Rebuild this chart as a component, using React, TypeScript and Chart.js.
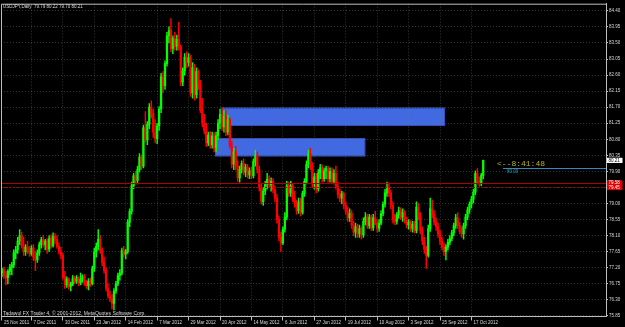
import { useEffect, useRef } from 'react';
import { Chart, registerables } from 'chart.js';

Chart.register(...registerables);

// ---- Daily USDJPY candles ----
const opens = [
  77.05, 77.15, 76.98, 76.92, 77.10, 77.22, 77.28, 77.62, 77.70, 77.95,
  78.10, 77.82, 77.65, 77.78, 77.68, 77.60, 77.75, 77.50, 77.42, 77.62,
  77.85, 77.98, 77.85, 77.95, 77.72, 78.02, 77.82, 78.08, 78.00, 77.80,
  77.65, 77.55, 76.95, 76.72, 76.88, 76.68, 76.75, 76.90, 76.82, 76.92,
  76.78, 76.88, 76.95, 76.75, 76.70, 76.82, 76.76, 77.18, 77.65, 77.80,
  78.00, 77.68, 77.35, 77.12, 76.62, 76.42, 76.32, 76.20, 76.55, 76.75,
  76.98, 77.05, 77.68, 77.58, 77.65, 78.48, 78.78, 79.50, 79.78, 79.65,
  79.95, 80.30, 80.05, 81.12, 80.78, 81.22, 81.70, 81.52, 81.00, 80.82,
  81.18, 81.65, 82.55, 82.30, 82.92, 83.70, 83.85, 83.35, 83.62, 83.40,
  83.60, 83.40, 82.40, 82.72, 83.10, 82.95, 83.08, 82.10, 82.80, 82.05,
  82.70, 82.35, 81.62, 81.25, 81.05, 80.70, 80.92, 80.65, 80.90, 80.55,
  80.90, 81.25, 81.50, 81.15, 81.45, 81.00, 81.35, 80.62, 80.10, 80.45,
  80.05, 79.72, 79.95, 80.12, 79.88, 80.02, 79.80, 79.92, 79.78, 80.18,
  80.35, 79.95, 79.45, 79.05, 79.35, 79.55, 79.68, 79.52, 79.62, 79.38,
  79.15, 78.55, 78.05, 77.90, 78.28, 78.62, 79.50, 79.30, 79.50, 79.15,
  79.00, 78.80, 79.05, 78.75, 79.28, 79.62, 80.10, 80.40, 80.05, 79.55,
  79.75, 79.42, 79.85, 80.00, 79.70, 79.92, 79.98, 79.70, 79.90, 79.62,
  79.85, 79.48, 79.25, 79.15, 79.28, 78.95, 78.78, 78.60, 78.72, 78.40,
  78.20, 78.35, 78.15, 78.30, 78.12, 78.50, 78.62, 78.38, 78.62, 78.32,
  78.60, 78.45, 78.30, 78.45, 78.72, 78.98, 79.30, 79.45, 79.30, 78.95,
  78.55, 78.50, 78.68, 78.80, 78.62, 78.75, 78.52, 78.40, 78.48, 78.30,
  78.42, 78.25, 78.90, 78.62, 78.25, 77.95, 77.72, 77.55, 78.30, 78.85,
  78.70, 78.48, 78.35, 78.15, 77.95, 77.78, 77.65, 77.78, 77.92, 78.02,
  78.18, 78.38, 78.60, 78.38, 78.22, 78.15, 78.38, 78.62, 78.82, 78.98,
  79.12, 79.32, 79.85, 79.62, 79.55, 79.79,
];
const highs = [
  77.20, 77.22, 77.10, 77.15, 77.30, 77.35, 77.70, 77.80, 78.05, 78.27,
  78.20, 78.05, 77.85, 77.95, 77.80, 77.82, 77.85, 77.66, 77.70, 77.92,
  78.05, 78.10, 78.00, 78.02, 78.10, 78.12, 78.18, 78.16, 78.10, 77.90,
  77.78, 77.62, 77.10, 76.95, 76.92, 76.80, 76.98, 76.96, 76.98, 76.95,
  77.05, 77.00, 77.02, 76.85, 76.90, 76.92, 77.25, 77.75, 77.90, 78.27,
  78.10, 77.75, 77.50, 77.20, 76.75, 76.55, 76.45, 76.62, 76.82, 77.05,
  77.15, 77.75, 77.80, 77.72, 78.55, 78.85, 79.60, 79.85, 79.90, 80.05,
  80.40, 80.35, 81.20, 81.58, 81.30, 81.80, 81.88, 81.65, 81.35, 81.25,
  81.72, 82.65, 82.70, 83.00, 83.80, 83.95, 84.18, 83.70, 83.80, 83.72,
  84.08, 83.45, 82.80, 83.20, 83.25, 83.20, 83.15, 82.95, 82.90, 82.80,
  82.75, 82.45, 81.95, 81.50, 81.25, 81.00, 81.02, 81.00, 80.98, 81.00,
  81.35, 81.65, 81.68, 81.60, 81.62, 81.48, 81.40, 80.75, 80.55, 80.60,
  80.20, 80.05, 80.20, 80.25, 80.10, 80.10, 80.00, 80.02, 80.25, 80.50,
  80.45, 80.05, 79.55, 79.45, 79.62, 79.85, 79.78, 79.72, 79.70, 79.50,
  79.25, 78.65, 78.20, 78.35, 78.75, 79.62, 79.60, 79.62, 79.55, 79.35,
  79.10, 79.15, 79.15, 79.35, 79.70, 80.20, 80.50, 80.55, 80.15, 79.85,
  79.85, 79.95, 80.10, 80.08, 80.00, 80.05, 80.05, 80.00, 80.00, 79.95,
  80.05, 79.60, 79.40, 79.35, 79.32, 79.05, 78.90, 78.85, 78.80, 78.50,
  78.45, 78.42, 78.40, 78.35, 78.60, 78.75, 78.70, 78.70, 78.68, 78.70,
  78.78, 78.55, 78.55, 78.80, 79.05, 79.40, 79.60, 79.58, 79.38, 79.05,
  78.70, 78.75, 78.90, 78.88, 78.85, 78.80, 78.62, 78.55, 78.52, 78.50,
  78.50, 79.05, 79.00, 78.75, 78.35, 78.05, 77.80, 78.40, 79.15, 79.10,
  78.80, 78.60, 78.45, 78.25, 78.05, 77.90, 77.85, 78.00, 78.10, 78.25,
  78.45, 78.70, 78.75, 78.48, 78.35, 78.45, 78.70, 78.90, 79.05, 79.20,
  79.40, 79.92, 79.98, 79.75, 79.85, 80.22,
];
const lows = [
  76.95, 76.90, 76.72, 76.75, 77.00, 77.00, 77.20, 77.45, 77.60, 77.85,
  77.75, 77.55, 77.55, 77.60, 77.52, 77.55, 77.40, 77.12, 77.35, 77.55,
  77.75, 77.78, 77.70, 77.60, 77.65, 77.75, 77.78, 77.88, 77.75, 77.58,
  77.45, 76.88, 76.62, 76.65, 76.60, 76.55, 76.70, 76.75, 76.76, 76.70,
  76.72, 76.80, 76.70, 76.62, 76.58, 76.68, 76.72, 77.10, 77.50, 77.70,
  77.60, 77.25, 77.05, 76.55, 76.35, 76.25, 76.05, 76.02, 76.48, 76.70,
  76.85, 77.00, 77.50, 77.45, 77.60, 78.35, 78.70, 79.42, 79.55, 79.55,
  79.88, 79.95, 80.00, 80.72, 80.65, 81.10, 81.40, 80.85, 80.70, 80.68,
  81.05, 81.55, 82.10, 82.20, 82.85, 83.50, 83.25, 83.20, 83.30, 83.30,
  83.30, 82.30, 82.30, 82.60, 82.80, 82.85, 82.00, 81.95, 81.90, 81.95,
  82.20, 81.55, 81.15, 80.95, 80.60, 80.62, 80.55, 80.55, 80.45, 80.45,
  80.80, 81.10, 81.05, 81.00, 80.90, 80.92, 80.55, 80.00, 79.95, 79.95,
  79.62, 79.60, 79.85, 79.80, 79.75, 79.72, 79.70, 79.70, 79.72, 80.05,
  79.85, 79.35, 78.98, 78.95, 79.25, 79.40, 79.45, 79.35, 79.30, 79.05,
  78.45, 77.95, 77.65, 77.85, 78.20, 78.55, 79.20, 79.20, 79.05, 78.90,
  78.70, 78.72, 78.65, 78.70, 79.20, 79.55, 80.00, 79.95, 79.45, 79.40,
  79.30, 79.35, 79.70, 79.60, 79.62, 79.70, 79.60, 79.60, 79.55, 79.55,
  79.40, 79.15, 79.05, 79.00, 78.85, 78.70, 78.50, 78.50, 78.30, 78.10,
  78.05, 78.05, 78.05, 78.00, 78.05, 78.40, 78.30, 78.30, 78.25, 78.25,
  78.40, 78.20, 78.22, 78.40, 78.65, 78.90, 79.20, 79.20, 78.85, 78.45,
  78.40, 78.42, 78.58, 78.55, 78.50, 78.45, 78.32, 78.28, 78.22, 78.20,
  78.18, 78.18, 78.55, 78.15, 77.85, 77.60, 77.18, 77.50, 78.22, 78.60,
  78.40, 78.25, 78.05, 77.85, 77.70, 77.55, 77.42, 77.70, 77.85, 77.95,
  78.10, 78.30, 78.30, 78.15, 78.05, 78.00, 78.30, 78.55, 78.72, 78.88,
  79.02, 79.25, 79.55, 79.48, 79.50, 79.70,
];
const closes = [
  77.15, 76.98, 76.92, 77.10, 77.22, 77.28, 77.62, 77.70, 77.95, 78.10,
  77.82, 77.65, 77.78, 77.68, 77.60, 77.75, 77.50, 77.42, 77.62, 77.85,
  77.98, 77.85, 77.95, 77.72, 78.02, 77.82, 78.08, 78.00, 77.80, 77.65,
  77.55, 76.95, 76.72, 76.88, 76.68, 76.75, 76.90, 76.82, 76.92, 76.78,
  76.88, 76.95, 76.75, 76.70, 76.82, 76.76, 77.18, 77.65, 77.80, 78.00,
  77.68, 77.35, 77.12, 76.62, 76.42, 76.32, 76.20, 76.55, 76.75, 76.98,
  77.05, 77.68, 77.58, 77.65, 78.48, 78.78, 79.50, 79.78, 79.65, 79.95,
  80.30, 80.05, 81.12, 80.78, 81.22, 81.70, 81.52, 81.00, 80.82, 81.18,
  81.65, 82.55, 82.30, 82.92, 83.70, 83.85, 83.35, 83.62, 83.40, 83.60,
  83.40, 82.40, 82.72, 83.10, 82.95, 83.08, 82.10, 82.80, 82.05, 82.70,
  82.35, 81.62, 81.25, 81.05, 80.70, 80.92, 80.65, 80.90, 80.55, 80.90,
  81.25, 81.50, 81.15, 81.45, 81.00, 81.35, 80.62, 80.10, 80.45, 80.05,
  79.72, 79.95, 80.12, 79.88, 80.02, 79.80, 79.92, 79.78, 80.18, 80.35,
  79.95, 79.45, 79.05, 79.35, 79.55, 79.68, 79.52, 79.62, 79.38, 79.15,
  78.55, 78.05, 77.90, 78.28, 78.62, 79.50, 79.30, 79.50, 79.15, 79.00,
  78.80, 79.05, 78.75, 79.28, 79.62, 80.10, 80.40, 80.05, 79.55, 79.75,
  79.42, 79.85, 80.00, 79.70, 79.92, 79.98, 79.70, 79.90, 79.62, 79.85,
  79.48, 79.25, 79.15, 79.28, 78.95, 78.78, 78.60, 78.72, 78.40, 78.20,
  78.35, 78.15, 78.30, 78.12, 78.50, 78.62, 78.38, 78.62, 78.32, 78.60,
  78.45, 78.30, 78.45, 78.72, 78.98, 79.30, 79.45, 79.30, 78.95, 78.55,
  78.50, 78.68, 78.80, 78.62, 78.75, 78.52, 78.40, 78.48, 78.30, 78.42,
  78.25, 78.90, 78.62, 78.25, 77.95, 77.72, 77.55, 78.30, 78.85, 78.70,
  78.48, 78.35, 78.15, 77.95, 77.78, 77.65, 77.78, 77.92, 78.02, 78.18,
  78.38, 78.60, 78.38, 78.22, 78.15, 78.38, 78.62, 78.82, 78.98, 79.12,
  79.32, 79.85, 79.62, 79.55, 79.79, 80.21,
];

// ---- time scale ----
const dateLabels = [
  '25 Nov 2011', '7 Dec 2011', '30 Dec 2011', '23 Jan 2012', '14 Feb 2012',
  '7 Mar 2012', '29 Mar 2012', '20 Apr 2012', '14 May 2012', '6 Jun 2012',
  '27 Jun 2012', '19 Jul 2012', '10 Aug 2012', '3 Sep 2012', '25 Sep 2012',
  '17 Oct 2012',
];
const dateLabelBars = [0, 15, 31, 47, 63, 79, 95, 111, 127, 143, 159, 175, 191, 207, 223, 239];
const TOTAL_SLOTS = 308; // bars + empty chart shift on the right

// ---- price scale ----
const priceTicks = [
  75.85, 76.3, 76.75, 77.2, 77.65, 78.1, 78.55, 79.0, 79.45, 79.9,
  80.35, 80.8, 81.25, 81.7, 82.15, 82.6, 83.05, 83.5, 83.95, 84.4,
];
const priceMin = 75.835;
const priceMax = 84.6;

// ---- objects ----
const zoneStartBar = [112, 108.5];
const zoneEndBar = [225.5, 185];
const zoneTop = [81.69, 80.83];
const zoneBottom = [81.19, 80.32];

const levelPrices = [79.58, 79.45]; // solid, dotted
const trendPrice = 80.0;
const trendStartBar = 255;
const bidPrice = 80.21;
const timerText = '<--8:41:48';
const timerBar = 252;
const titleText = 'USDJPY,Daily  79.79 80.22 79.70 80.21';
const footerText = 'Tadawul FX Trader 4, \u00A9 2001-2012, MetaQuotes Software Corp.';

const BULL = '#00ff00';
const BEAR = '#ff0000';
const FONT = 'Liberation Sans';
const AXIS_TEXT = '#d8d8d8';
const GRID = 'rgba(110,125,115,0.45)';
const FRAME = '#bdbdbd';

const overlayPlugin = {
  id: 'mt4overlay',
  beforeDraw(chart: any) {
    const { ctx, chartArea: ca, scales } = chart;
    ctx.save();
    ctx.fillStyle = '#000';
    ctx.fillRect(0, 0, chart.width, chart.height);
    ctx.beginPath();
    ctx.rect(ca.left, ca.top, ca.right - ca.left, ca.bottom - ca.top);
    ctx.clip();
    for (let k = 0; k < zoneStartBar.length; k++) {
      const x1 = scales.x.getPixelForValue(zoneStartBar[k]);
      const x2 = scales.x.getPixelForValue(zoneEndBar[k]);
      const y1 = scales.y.getPixelForValue(zoneTop[k]);
      const y2 = scales.y.getPixelForValue(zoneBottom[k]);
      ctx.fillStyle = '#4169e1';
      ctx.fillRect(x1, y1, x2 - x1, y2 - y1);
      ctx.strokeStyle = '#2f52c0';
      ctx.lineWidth = 1;
      ctx.strokeRect(Math.round(x1) + 0.5, Math.round(y1) + 0.5, Math.round(x2 - x1) - 1, Math.round(y2 - y1) - 1);
    }
    ctx.restore();
  },
  afterDatasetsDraw(chart: any) {
    const { ctx, chartArea: ca, scales } = chart;
    ctx.save();
    ctx.beginPath();
    ctx.rect(ca.left, ca.top, ca.right - ca.left, ca.bottom - ca.top);
    ctx.clip();
    // horizontal levels
    levelPrices.forEach((p, k) => {
      const y = Math.round(scales.y.getPixelForValue(p)) + 0.5;
      ctx.strokeStyle = '#b00000';
      ctx.lineWidth = 1;
      ctx.setLineDash(k === 0 ? [] : [2, 2]);
      ctx.beginPath();
      ctx.moveTo(ca.left, y);
      ctx.lineTo(ca.right, y);
      ctx.stroke();
    });
    ctx.setLineDash([]);
    // trend line at 80.00
    const ty = Math.round(scales.y.getPixelForValue(trendPrice)) + 0.5;
    const tx = scales.x.getPixelForValue(trendStartBar);
    ctx.strokeStyle = '#3a86c0';
    ctx.beginPath();
    ctx.moveTo(tx, ty);
    ctx.lineTo(ca.right, ty);
    ctx.stroke();
    ctx.fillStyle = '#1aa0b8';
    ctx.font = `4.5px "${FONT}"`;
    ctx.textBaseline = 'top';
    ctx.textAlign = 'left';
    ctx.fillText(trendPrice.toFixed(2), tx + 4, ty + 1.5);
    // countdown text
    ctx.fillStyle = '#b4b42a';
    ctx.font = '8px "Liberation Mono"';
    ctx.textBaseline = 'top';
    ctx.fillText(timerText, scales.x.getPixelForValue(timerBar), scales.y.getPixelForValue(bidPrice));
    ctx.restore();
  },
  afterDraw(chart: any) {
    const { ctx, chartArea: ca, scales } = chart;
    ctx.save();
    // frame left / top
    ctx.strokeStyle = FRAME;
    ctx.lineWidth = 1;
    ctx.beginPath();
    ctx.moveTo(ca.left + 0.5, ca.bottom);
    ctx.lineTo(ca.left + 0.5, ca.top + 0.5);
    ctx.lineTo(ca.right, ca.top + 0.5);
    ctx.stroke();
    // title & footer
    ctx.fillStyle = AXIS_TEXT;
    ctx.font = `4.5px "${FONT}"`;
    ctx.textAlign = 'left';
    ctx.textBaseline = 'middle';
    ctx.fillText(titleText, ca.left + 2, ca.top + 3.5);
    ctx.textBaseline = 'bottom';
    ctx.font = `5px "${FONT}"`;
    ctx.fillText(footerText, ca.left + 2, ca.bottom - 0.5);
    // price boxes on the right scale
    const box = (p: number, bg: string, fg: string) => {
      const y = scales.y.getPixelForValue(p);
      ctx.fillStyle = bg;
      ctx.fillRect(ca.right + 1, y - 2.6, 15.5, 5.2);
      ctx.fillStyle = fg;
      ctx.font = `4.5px "${FONT}"`;
      ctx.textBaseline = 'middle';
      ctx.fillText(p.toFixed(2), ca.right + 2.5, y + 0.2);
    };
    box(levelPrices[0], '#e00000', '#ffffff');
    box(levelPrices[1], '#e00000', '#ffffff');
    box(bidPrice, '#ffffff', '#000000');
    ctx.restore();
  },
};

export default function App() {
  const ref = useRef<HTMLCanvasElement | null>(null);

  useEffect(() => {
    if (!ref.current) return;
    const xLabels = Array.from({ length: TOTAL_SLOTS }, (_, i) => {
      const k = dateLabelBars.indexOf(i);
      return k >= 0 ? dateLabels[k] : '';
    });
    const colors = closes.map((c, i) => (c >= opens[i] ? BULL : BEAR));
    const chart = new Chart(ref.current, {
      type: 'bar',
      data: {
        labels: xLabels,
        datasets: [
          {
            data: opens.map((o, i) => [o, closes[i]]) as any,
            backgroundColor: colors,
            borderWidth: 0,
            barThickness: 1.6,
            minBarLength: 0.8,
            grouped: false,
          } as any,
          {
            data: lows.map((l, i) => [l, highs[i]]) as any,
            backgroundColor: colors,
            borderWidth: 0,
            barThickness: 0.8,
            grouped: false,
          } as any,
        ],
      },
      options: {
        animation: false,
        responsive: false,
        devicePixelRatio: 1,
        events: [],
        layout: { padding: { left: 1, top: 2, right: 0, bottom: 0 } },
        plugins: { legend: { display: false }, tooltip: { enabled: false } },
        scales: {
          x: {
            type: 'category',
            offset: true,
            afterBuildTicks: (s: any) => {
              s.ticks = dateLabelBars.map((v) => ({ value: v }));
            },
            afterFit: (s: any) => {
              s.height = 10.5;
            },
            grid: {
              offset: false,
              color: GRID,
              lineWidth: 1,
              drawTicks: true,
              tickLength: 4,
              tickColor: FRAME,
              tickBorderDash: [],
            } as any,
            border: { display: true, color: FRAME, dash: [1, 2] },
            ticks: {
              autoSkip: false,
              maxRotation: 0,
              minRotation: 0,
              align: 'start',
              labelOffset: 2,
              padding: 0,
              color: AXIS_TEXT,
              font: { family: FONT, size: 4.5 },
            },
          },
          y: {
            position: 'right',
            min: priceMin,
            max: priceMax,
            afterBuildTicks: (s: any) => {
              s.ticks = priceTicks.map((v) => ({ value: v }));
            },
            afterFit: (s: any) => {
              s.width = 19;
            },
            grid: {
              color: GRID,
              lineWidth: 1,
              drawTicks: true,
              tickLength: 2,
              tickColor: FRAME,
              tickBorderDash: [],
            } as any,
            border: { display: true, color: FRAME, dash: [1, 2] },
            ticks: {
              autoSkip: false,
              padding: 1,
              color: AXIS_TEXT,
              font: { family: FONT, size: 4.5 },
              callback: (v: any) => Number(v).toFixed(2),
            },
          },
        },
      } as any,
      plugins: [overlayPlugin],
    });
    return () => chart.destroy();
  }, []);

  return (
    <div style={{ position: 'fixed', left: 0, top: 0, width: 625, height: 327, background: '#000' }}>
      <canvas ref={ref} width={625} height={327} style={{ display: 'block' }} />
    </div>
  );
}
